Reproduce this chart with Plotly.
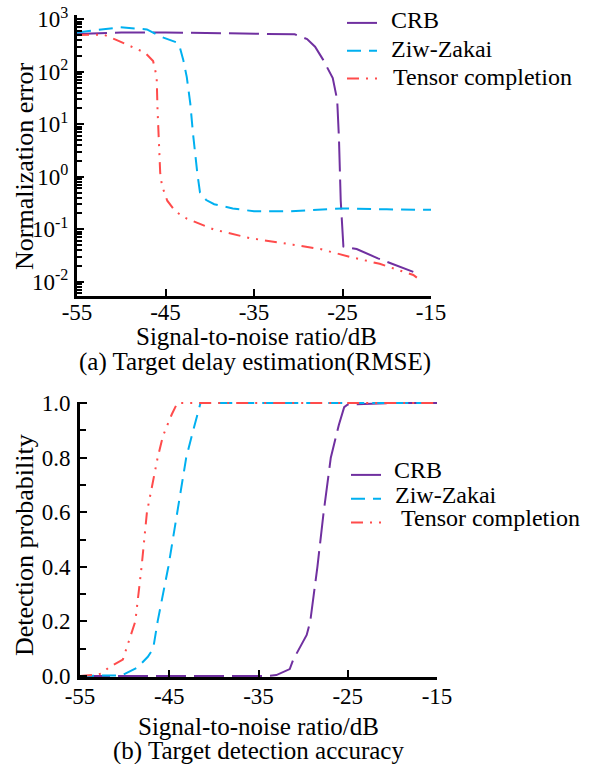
import plotly.graph_objects as go

W, H = 594, 764

# ---------------- data: (a) Target delay estimation (RMSE) ----------------
crb_a_x = [-55, -50, -45, -40, -35, -31, -30.4, -29, -28.1, -27.2, -26.1, -25.6, -25.4,
           -25.2, -25.05, -24.9, -23.4, -21, -17]
crb_a_y = [525, 560, 560, 545, 540, 530, 515, 420, 300, 170, 76, 29, 5.4,
           0.35, 0.14, 0.047, 0.042, 0.028, 0.0155]

zz_a_x = [-55, -52.4, -50.1, -47.1, -45.6, -43.7, -43.4, -43.0, -42.6, -42.2, -41.9,
          -41.4, -41.1, -40.4, -39.5, -37.4, -35, -31, -28, -25, -20, -15]
zz_a_y = [560, 640, 700, 640, 470, 360, 300, 170, 80, 25, 6.8,
          1.15, 0.5, 0.36, 0.3, 0.25, 0.22, 0.22, 0.235, 0.25, 0.24, 0.235]

tc_a_x = [-55, -52, -50.5, -47.3, -46.4, -46.0, -45.9, -45.75, -45.6, -45.4, -44.8,
          -43.9, -42.6, -39.6, -35.5, -30.6, -27.5, -24.2, -20.8, -17.0, -16.6]
tc_a_y = [500, 510, 400, 230, 160, 80, 19, 3.2, 1.2, 0.68, 0.35,
          0.22, 0.16, 0.1, 0.068, 0.051, 0.042, 0.030, 0.022, 0.0135, 0.012]

# ---------------- data: (b) Target detection accuracy ----------------
crb_b_x = [-55, -34, -33, -31.5, -31.1, -30.0, -29.6, -29.2, -28.4, -27.7, -26.9,
           -26.0, -25.4, -25.0, -20, -15]
crb_b_y = [0, 0, 0.003, 0.025, 0.06, 0.13, 0.15, 0.2, 0.4, 0.6, 0.8,
           0.92, 0.985, 0.995, 1.0, 1.0]

zz_b_x = [-55, -51, -50.3, -48.6, -47.4, -46.8, -46.3, -45.1, -44.1, -43.1, -42.4,
          -41.8, -41.5, -35, -25, -15]
zz_b_y = [0, 0, 0.002, 0.03, 0.07, 0.1, 0.2, 0.4, 0.6, 0.8, 0.89,
          0.96, 1.0, 1.0, 1.0, 1.0]

tc_b_x = [-55, -53, -52.5, -51.8, -50.2, -49.2, -48.8, -48.1, -47.5, -46.3, -45.7,
          -45.2, -44.7, -44.1, -35, -25, -15]
tc_b_y = [0, 0.005, 0.01, 0.03, 0.06, 0.16, 0.2, 0.4, 0.6, 0.8, 0.88,
          0.92, 0.96, 1.0, 1.0, 1.0, 1.0]

names = ["CRB", "Ziw-Zakai", "Tensor completion"]
colors = ["#7030A0", "#00B0F0", "#FF4B4B"]
dashes = ["30px,8px", "14px,8px", "12px,7px,2px,7px,2px,7px"]

x_tickvals = [-55, -45, -35, -25, -15]
x_ticktext = ["-55", "-45", "-35", "-25", "-15"]
y_a_tickvals = [0.01, 0.1, 1, 10, 100, 1000]
y_a_ticktext = ["10<sup>-2</sup>", "10<sup>-1</sup>", "10<sup>0</sup>",
                "10<sup>1</sup>", "10<sup>2</sup>", "10<sup>3</sup>"]
y_b_tickvals = [0.0, 0.2, 0.4, 0.6, 0.8, 1.0]
y_b_ticktext = ["0.0", "0.2", "0.4", "0.6", "0.8", "1.0"]

FONT = "Liberation Serif"


def px_x(x):
    return x / W


def px_y(y):
    return 1 - y / H


fig = go.Figure()

series_a = [(crb_a_x, crb_a_y), (zz_a_x, zz_a_y), (tc_a_x, tc_a_y)]
series_b = [(crb_b_x, crb_b_y), (zz_b_x, zz_b_y), (tc_b_x, tc_b_y)]

for i, (xs, ys) in enumerate(series_a):
    fig.add_trace(go.Scatter(x=xs, y=ys, mode="lines", name="", meta=names[i],
                             hovertemplate="%{meta}: %{y}<extra></extra>",
                             line=dict(color=colors[i], width=2, dash=dashes[i]),
                             xaxis="x", yaxis="y", legend="legend",
                             legendgroup="a%d" % i))
for i, (xs, ys) in enumerate(series_b):
    fig.add_trace(go.Scatter(x=xs, y=ys, mode="lines", name="", meta=names[i],
                             hovertemplate="%{meta}: %{y}<extra></extra>",
                             line=dict(color=colors[i], width=2, dash=dashes[i]),
                             xaxis="x2", yaxis="y2", legend="legend2",
                             legendgroup="b%d" % i))

# minor log ticks
minor_a = [m * 10.0 ** k for k in range(-3, 3) for m in range(2, 10)]

axis_common = dict(showline=True, linecolor="black", linewidth=3, mirror=False,
                   ticks="inside", tickcolor="black", tickwidth=2, ticklen=7,
                   showgrid=False, zeroline=False, automargin=False,
                   tickfont=dict(family=FONT, size=23, color="black"))

fig.update_layout(
    width=W, height=H, autosize=False,
    margin=dict(l=0, r=0, t=0, b=0, pad=0, autoexpand=False),
    paper_bgcolor="white", plot_bgcolor="white",
    font=dict(family=FONT, color="black"),
    hovermode="closest",
    xaxis=dict(domain=[px_x(77), px_x(431)], range=[-55, -15], anchor="y",
               tickmode="array", tickvals=x_tickvals, ticktext=x_ticktext,
               ticklabelstandoff=-7, **axis_common),
    yaxis=dict(domain=[px_y(296), px_y(15)], type="log", range=[-2.27, 3.08],
               anchor="x", tickmode="array", tickvals=y_a_tickvals,
               ticktext=y_a_ticktext, ticklabelstandoff=1,
               minor=dict(tickmode="array", tickvals=minor_a, ticks="inside",
                          ticklen=5, tickwidth=2, tickcolor="black"),
               **axis_common),
    xaxis2=dict(domain=[px_x(80), px_x(437)], range=[-55, -15], anchor="y2",
                tickmode="array", tickvals=x_tickvals, ticktext=x_ticktext,
                ticklabelstandoff=-4, **axis_common),
    yaxis2=dict(domain=[px_y(677), px_y(402)], range=[-0.004, 1.004],
                anchor="x2", tickmode="array", tickvals=y_b_tickvals,
                ticktext=y_b_ticktext, ticklabelstandoff=2,
                minor=dict(dtick=0.1, ticks="inside", ticklen=6, tickwidth=2,
                           tickcolor="black"),
                **axis_common),
    legend=dict(x=px_x(342), y=px_y(6), xanchor="left", yanchor="top",
                bgcolor="rgba(0,0,0,0)", tracegroupgap=4, borderwidth=0,
                font=dict(family=FONT, size=16, color="black")),
    legend2=dict(x=px_x(346), y=px_y(458), xanchor="left", yanchor="top",
                 bgcolor="rgba(0,0,0,0)", tracegroupgap=0, borderwidth=0,
                 font=dict(family=FONT, size=16, color="black")),
)

# legend labels (text next to the legend line samples)
legend_labels = [
    (names[0], 389, 20), (names[1], 389, 49), (names[2], 391, 77),
    (names[0], 392, 470), (names[1], 393, 495), (names[2], 399, 518),
]
for text, x, y in legend_labels:
    fig.add_annotation(text=text, x=px_x(x), y=px_y(y), xref="paper", yref="paper",
                       xanchor="left", yanchor="middle", showarrow=False,
                       font=dict(family=FONT, size=24, color="black"))

ann = [
    ("Normalization error", 24, 166, -90, 26),
    ("Signal-to-noise ratio/dB", 256, 336, 0, 25),
    ("(a) Target delay estimation(RMSE)", 255, 362, 0, 25),
    ("Detection probability", 24, 545, -90, 26),
    ("Signal-to-noise ratio/dB", 258, 726, 0, 25),
    ("(b) Target detection accuracy", 258, 751, 0, 25),
]
for text, x, y, rot, size in ann:
    fig.add_annotation(text=text, x=px_x(x), y=px_y(y), xref="paper", yref="paper",
                       xanchor="center", yanchor="middle", showarrow=False,
                       textangle=rot, font=dict(family=FONT, size=size, color="black"))

fig.write_html("out.html")
